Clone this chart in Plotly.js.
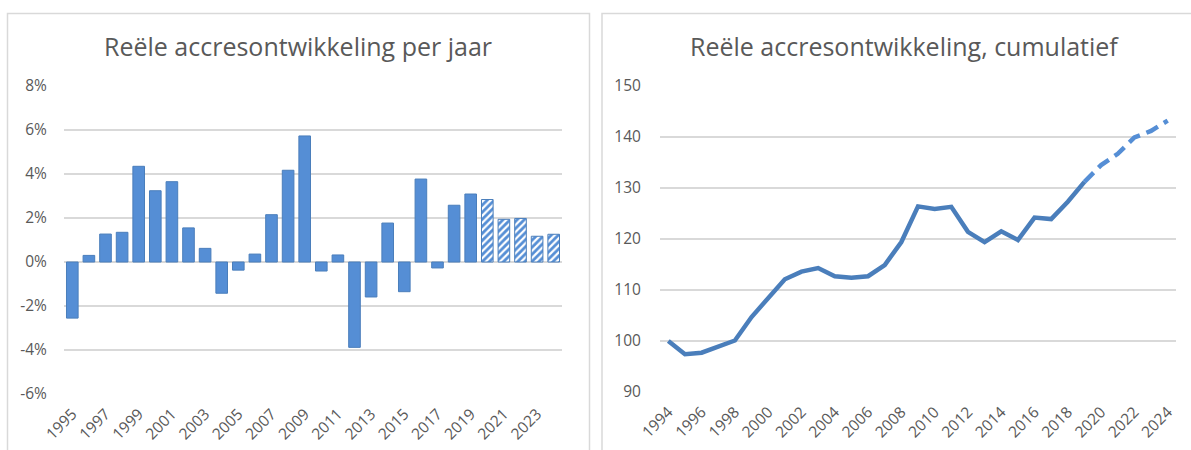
<!DOCTYPE html>
<html>
<head>
<meta charset="utf-8">
<script src="https://cdn.plot.ly/plotly-3.0.1.min.js"></script>
<style>html,body{margin:0;padding:0;background:#fff;}#chart{width:1191px;height:450px;}</style>
</head>
<body>
<div id="chart"></div>
<script>
// Annual real growth (%), 1995-2024; 2020-2024 are forecast (hatched)
const barYears = [1995,1996,1997,1998,1999,2000,2001,2002,2003,2004,2005,2006,2007,2008,2009,2010,2011,2012,2013,2014,2015,2016,2017,2018,2019,2020,2021,2022,2023,2024];
const barValues = [-2.55,0.3,1.27,1.35,4.35,3.24,3.65,1.55,0.62,-1.42,-0.37,0.36,2.15,4.17,5.73,-0.41,0.32,-3.88,-1.59,1.77,-1.35,3.77,-0.27,2.58,3.09,2.84,1.94,1.98,1.17,1.26];
const firstForecastYear = 2020;

// Cumulative index, 1994 = 100
const lineYears = [1994,1995,1996,1997,1998,1999,2000,2001,2002,2003,2004,2005,2006,2007,2008,2009,2010,2011,2012,2013,2014,2015,2016,2017,2018,2019,2020,2021,2022,2023,2024];
const lineValues = [100,97.4,97.7,98.8,100.1,104.7,108.3,112.1,113.6,114.3,112.7,112.4,112.7,114.9,119.4,126.4,125.9,126.3,121.4,119.4,121.5,119.8,124.2,123.9,127.3,131.2,134.5,136.7,139.9,141.2,143.2];
const lastActualYear = 2019;

const yTickVals = [-6,-4,-2,0,2,4,6,8];
const yTickText = ['-6%','-4%','-2%','0%','2%','4%','6%','8%'];

const leftTitle = 'Reële accresontwikkeling per jaar';
const rightTitle = 'Reële accresontwikkeling, cumulatief';

const W = 1191, H = 450;
const px = v => v / W;
const py = v => 1 - v / H;

const actB = barYears.map((y,i)=>({y,v:barValues[i]})).filter(d=>d.y<firstForecastYear);
const fcB = barYears.map((y,i)=>({y,v:barValues[i]})).filter(d=>d.y>=firstForecastYear);
const actL = lineYears.map((y,i)=>({y,v:lineValues[i]})).filter(d=>d.y<=lastActualYear);
const fcL = lineYears.map((y,i)=>({y,v:lineValues[i]})).filter(d=>d.y>=lastActualYear);

const barFill = '#558ED5';
const barLine = '#4A7EBB';
const textColor = '#595959';
const font = 'Open Sans, sans-serif';

const traces = [
  {type:'bar', x:actB.map(d=>d.y), y:actB.map(d=>d.v), xaxis:'x', yaxis:'y',
   marker:{color:barFill, line:{color:barLine, width:1}}, hoverinfo:'x+y'},
  {type:'bar', x:fcB.map(d=>d.y), y:fcB.map(d=>d.v), xaxis:'x', yaxis:'y',
   marker:{color:'#ffffff', line:{color:barLine, width:1},
     pattern:{shape:'/', fgcolor:barFill, bgcolor:'#ffffff', size:5, solidity:0.55}}, hoverinfo:'x+y'},
  {type:'scatter', mode:'lines', x:actL.map(d=>d.y), y:actL.map(d=>d.v), xaxis:'x2', yaxis:'y2',
   line:{color:'#4A7EBB', width:4.5}},
  {type:'scatter', mode:'lines', x:fcL.map(d=>d.y), y:fcL.map(d=>d.v), xaxis:'x2', yaxis:'y2',
   line:{color:'#558ED5', width:4.5, dash:'13px,7px'}}
];

const axisFont = {family:font, size:15.5, color:textColor};

const layout = {
  width:W, height:H, margin:{l:0,r:0,t:0,b:0},
  paper_bgcolor:'#fff', plot_bgcolor:'rgba(0,0,0,0)',
  showlegend:false, barmode:'overlay', bargap:0.3,
  font:{family:font, color:textColor},
  xaxis:{domain:[px(64), px(562)], range:[1994.5,2024.5], tickmode:'linear', tick0:1995, dtick:2,
    tickangle:-45, showgrid:false, zeroline:false, showline:false, ticks:'outside', ticklen:4,
    tickcolor:'rgba(0,0,0,0)', tickfont:axisFont, anchor:'y', fixedrange:true},
  yaxis:{domain:[py(394), py(86)], range:[-6,8], tickvals:yTickVals, ticktext:yTickText,
    showgrid:true, gridcolor:'#D9D9D9', gridwidth:1.5, zeroline:false, showline:false,
    ticks:'outside', ticklen:13, tickcolor:'rgba(0,0,0,0)', tickfont:axisFont, anchor:'x', fixedrange:true},
  xaxis2:{domain:[px(660), px(1176)], range:[1993.5,2024.5], tickmode:'linear', tick0:1994, dtick:2,
    tickangle:-45, showgrid:false, zeroline:false, showline:false, ticks:'outside', ticklen:4,
    tickcolor:'rgba(0,0,0,0)', tickfont:axisFont, anchor:'y2', fixedrange:true},
  yaxis2:{domain:[py(392), py(86)], range:[90,150], dtick:10,
    showgrid:true, gridcolor:'#D9D9D9', gridwidth:1.5, zeroline:false, showline:false,
    ticks:'outside', ticklen:15, tickcolor:'rgba(0,0,0,0)', tickfont:axisFont, anchor:'x2', fixedrange:true},
  shapes:[
    {type:'rect', xref:'paper', yref:'paper', x0:px(7.5), x1:px(589.5), y0:-0.05, y1:py(13.5),
     line:{color:'#D9D9D9', width:1.5}, fillcolor:'rgba(0,0,0,0)', layer:'below'},
    {type:'rect', xref:'paper', yref:'paper', x0:px(602), x1:1.05, y0:-0.05, y1:py(13.5),
     line:{color:'#D9D9D9', width:1.5}, fillcolor:'rgba(0,0,0,0)', layer:'below'}
  ],
  annotations:[
    {text:leftTitle, xref:'paper', yref:'paper', x:px(298), y:py(46), xanchor:'center', yanchor:'middle',
     showarrow:false, font:{family:font, size:25, color:textColor}},
    {text:rightTitle, xref:'paper', yref:'paper', x:px(904), y:py(46), xanchor:'center', yanchor:'middle',
     showarrow:false, font:{family:font, size:25, color:textColor}}
  ]
};

Plotly.newPlot('chart', traces, layout, {displayModeBar:false, staticPlot:true});
</script>
</body>
</html>
